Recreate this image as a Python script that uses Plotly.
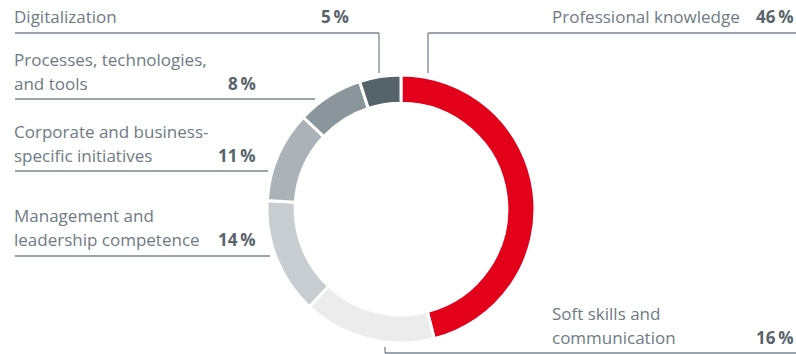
import plotly.graph_objects as go

# Share of training topics
topics = [
    "Professional knowledge",
    "Soft skills and communication",
    "Management and leadership competence",
    "Corporate and business-specific initiatives",
    "Processes, technologies, and tools",
    "Digitalization",
]
shares = [46, 16, 14, 11, 8, 5]
colors = ["#e2001a", "#ececec", "#c8cdd1", "#abb2b8", "#8a959c", "#56636b"]

# Label text lines per topic (same order as above)
label_lines = [
    ["Professional knowledge"],
    ["Soft skills and", "communication"],
    ["Management and", "leadership competence"],
    ["Corporate and business-", "specific initiatives"],
    ["Processes, technologies,", "and tools"],
    ["Digitalization"],
]

W, H = 796, 354
CX, CY, R = 401, 209, 134

TEXT = "#6e7a85"
BOLD = "#58636c"
LINE = "#7a8691"
FONT = "Open Sans"
FS = 17
PAD = 3  # annotation box padding in px


def px(x):
    return x / W


def py(y):
    return 1 - y / H


fig = go.Figure(
    go.Pie(
        labels=topics,
        values=shares,
        marker=dict(colors=colors, line=dict(color="white", width=3)),
        hole=0.79,
        sort=False,
        direction="clockwise",
        rotation=0,
        textinfo="none",
        hoverinfo="label+percent",
        showlegend=False,
        domain=dict(x=[px(CX - R), px(CX + R)], y=[py(CY + R), py(CY - R)]),
    )
)

# label layout: (text x, first baseline, percent right x, leader polyline)
label_layout = [
    (553, 23.5, 793, [(428, 73), (428, 33), (796, 33)]),
    (553, 320, 793, [(385, 347), (385, 353), (796, 353)]),
    (15, 222, 255, [(15, 256), (270, 256)]),
    (15, 137.5, 255, [(15, 171), (268, 171)]),
    (15, 66, 255, [(15, 99), (315, 99)]),
    (15, 23, 348, [(15, 33), (379, 33), (379, 73)]),
]
LINE_GAP = 24.2
MID = 6.5  # baseline to text middle

annotations = []
shapes = []
for lines, share, (tx, base, pxr, poly) in zip(label_lines, shares, label_layout):
    for i, ln in enumerate(lines):
        annotations.append(dict(
            x=px(tx - PAD), y=py(base + i * LINE_GAP - MID), xref="paper", yref="paper",
            text=ln, showarrow=False, xanchor="left", yanchor="middle",
            font=dict(family=FONT, size=FS, color=TEXT),
        ))
    last = base + (len(lines) - 1) * LINE_GAP
    annotations.append(dict(
        x=px(pxr + PAD), y=py(last - MID), xref="paper", yref="paper",
        text=f"<b>{share}\u2009%</b>", showarrow=False, xanchor="right", yanchor="middle",
        font=dict(family=FONT, size=FS, color=BOLD),
    ))
    for (x0, y0), (x1, y1) in zip(poly[:-1], poly[1:]):
        shapes.append(dict(
            type="line", xref="paper", yref="paper",
            x0=px(x0), y0=py(y0), x1=px(x1), y1=py(y1),
            line=dict(color=LINE, width=1.3),
        ))

fig.update_layout(
    width=W, height=H,
    margin=dict(l=0, r=0, t=0, b=0),
    paper_bgcolor="white", plot_bgcolor="white",
    annotations=annotations, shapes=shapes,
)

fig.write_html("out.html")
